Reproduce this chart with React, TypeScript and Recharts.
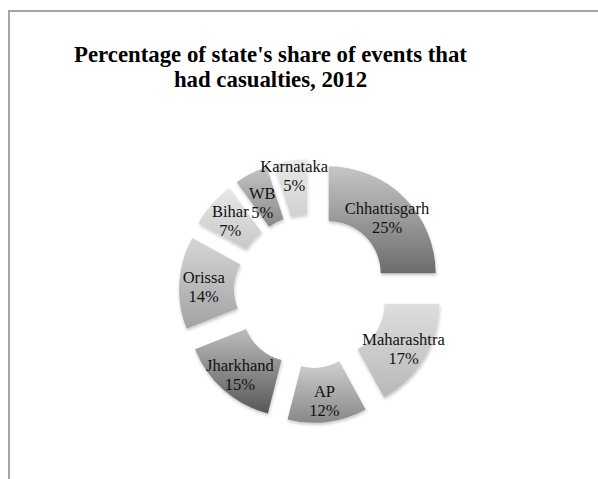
import React from 'react';
import { PieChart, Pie, Cell, Sector } from 'recharts';

// ---- data ----
const states = ['Chhattisgarh', 'Maharashtra', 'AP', 'Jharkhand', 'Orissa', 'Bihar', 'WB', 'Karnataka'];
const shares = [25, 17, 12, 15, 14, 7, 5, 5];
const titleLines = ["Percentage of state's share of events that", 'had casualties, 2012'];

// ---- styles ----
const gradTop = ['#c6c6c6', '#dedede', '#cfcfcf', '#bdbdbd', '#d6d6d6', '#e8e8e8', '#c4c4c4', '#eaeaea'];
const gradBottom = ['#6c6c6c', '#b8b8b8', '#888888', '#575757', '#a2a2a2', '#c8c8c8', '#8a8a8a', '#d0d0d0'];
// small vertical nudges so crowded labels do not collide (like the spreadsheet's own placement)
const labelNudgeY = [3, 3, 3, 3, 3, 1, 8, -9];

const data = states.map((name, i) => ({ name, value: shares[i] }));

const EXPLODE = 25;
const RAD = Math.PI / 180;
const SERIF = "'Liberation Serif', 'DejaVu Serif', serif";

function ExplodedSector(props: any) {
  const { cx, cy, midAngle, innerRadius, outerRadius, startAngle, endAngle, fill } = props;
  const dx = EXPLODE * Math.cos(-midAngle * RAD);
  const dy = EXPLODE * Math.sin(-midAngle * RAD);
  return (
    <Sector
      cx={cx + dx}
      cy={cy + dy}
      innerRadius={innerRadius}
      outerRadius={outerRadius}
      startAngle={startAngle}
      endAngle={endAngle}
      fill={fill}
      stroke="none"
      filter="url(#slice-shadow)"
    />
  );
}

function SliceLabel(props: any) {
  const { cx, cy, midAngle, innerRadius, outerRadius, name, percent, index } = props;
  const r = EXPLODE + (innerRadius + outerRadius) / 2 + 3;
  const x = cx + r * Math.cos(-midAngle * RAD);
  const i = typeof index === 'number' ? index : states.indexOf(name);
  const y = cy + r * Math.sin(-midAngle * RAD) + (labelNudgeY[i] || 0);
  return (
    <text x={x} y={y} textAnchor="middle" fontFamily={SERIF} fontSize={16.5} fill="#111">
      <tspan x={x} y={y - 9.5} dominantBaseline="central">{name}</tspan>
      <tspan x={x} y={y + 9.5} dominantBaseline="central">{`${Math.round(percent * 100)}%`}</tspan>
    </text>
  );
}

export default function App() {
  return (
    <div style={{ position: 'absolute', left: 0, top: 0, width: 598, height: 479, overflow: 'hidden', background: '#fff' }}>
      <div
        style={{
          position: 'absolute',
          left: 8,
          top: 10,
          width: 640,
          height: 520,
          borderLeft: '2px solid #a6a6a6',
          borderTop: '2px solid #a6a6a6',
        }}
      />
      <div
        style={{
          position: 'absolute',
          left: 0,
          top: 42,
          width: 541,
          textAlign: 'center',
          fontFamily: SERIF,
          fontWeight: 'bold',
          fontSize: 22.8,
          lineHeight: '25px',
          color: '#000',
          whiteSpace: 'nowrap',
        }}
      >
        {titleLines.map((t) => (
          <div key={t}>{t}</div>
        ))}
      </div>
      <div style={{ position: 'absolute', left: 0, top: 0 }}>
        <PieChart width={598} height={479} margin={{ top: 0, right: 0, bottom: 0, left: 0 }}>
          <defs>
            {gradTop.map((c, i) => (
              <linearGradient key={i} id={`slice-grad-${i}`} x1="0" y1="0" x2="0" y2="1">
                <stop offset="0%" stopColor={c} />
                <stop offset="100%" stopColor={gradBottom[i]} />
              </linearGradient>
            ))}
            <filter id="slice-shadow" x="-20%" y="-20%" width="140%" height="140%">
              <feDropShadow dx="0.5" dy="2" stdDeviation="1.5" floodColor="#000" floodOpacity="0.22" />
            </filter>
          </defs>
          <Pie
            data={data}
            dataKey="value"
            nameKey="name"
            cx={311}
            cy={291}
            innerRadius={52}
            outerRadius={107}
            startAngle={90}
            endAngle={-270}
            stroke="none"
            isAnimationActive={false}
            labelLine={false}
            label={SliceLabel}
            shape={ExplodedSector}
            activeShape={ExplodedSector}
            inactiveShape={ExplodedSector}
          >
            {data.map((d, i) => (
              <Cell key={d.name} fill={`url(#slice-grad-${i})`} />
            ))}
          </Pie>
        </PieChart>
      </div>
    </div>
  );
}
